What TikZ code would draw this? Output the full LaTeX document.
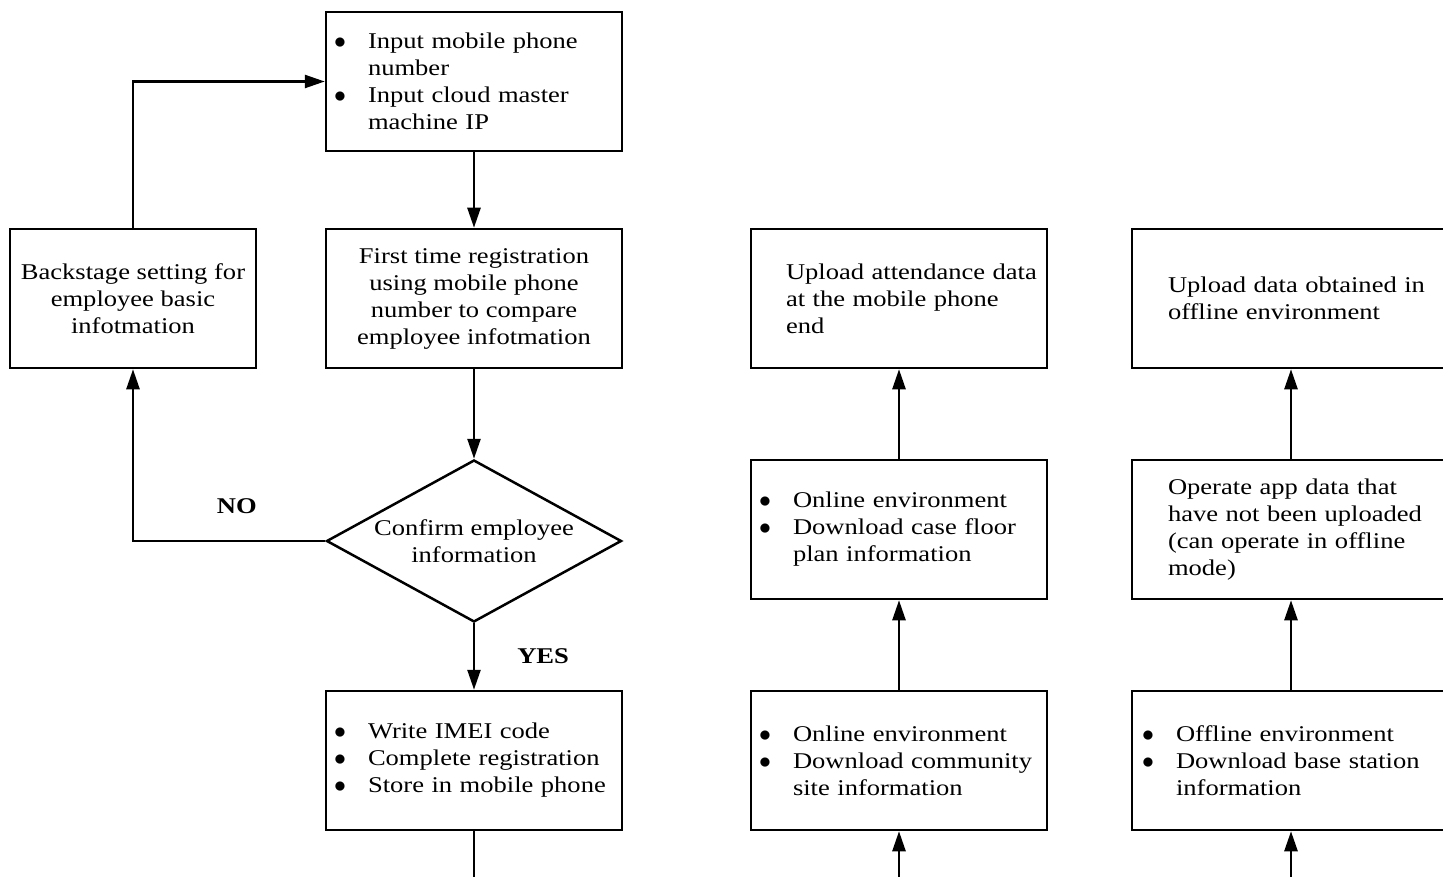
\documentclass[tikz,border=0pt]{standalone}
\usepackage{fontspec}
\setmainfont{Liberation Serif}[FakeStretch=1.18]
\usetikzlibrary{shapes.geometric,arrows.meta}
\newcommand{\bul}{\leavevmode\llap{\scalebox{1.15}{$\bullet$}\hspace{22pt}}}
\tikzset{
  box/.style={rectangle, draw, line width=2.5pt, minimum height=139pt, inner sep=0pt},
  midbox/.style={box, minimum width=296pt, align=center},
  listbox/.style={box, text width=296pt, align=left},
  widebox/.style={box, text width=318pt, align=left},
  decision/.style={diamond, draw, line width=2.5pt, aspect=2, minimum width=295pt, minimum height=162pt, inner sep=0pt, align=center},
  flow/.style={line width=2.5pt, -{Triangle[length=20pt,width=13pt]}},
  plain/.style={line width=2.5pt},
  answer/.style={font=\fontsize{22.5}{27}\selectfont\bfseries, inner sep=0pt}
}

\begin{document}
\begin{tikzpicture}[x=1pt, y=-1pt, every node/.style={font=\fontsize{22.5}{27}\selectfont}]
  \useasboundingbox (0,0) rectangle (1443,877);

  % registration column
  \node[listbox] (inp) at (474,81.5) {\leftskip=42pt \bul Input mobile phone\\ number\\ \bul Input cloud master\\ machine IP\par};
  \node[box, minimum width=246pt, align=center] (bks) at (133,298.5) {Backstage setting for\\ employee basic\\ infotmation};
  \node[midbox] (reg) at (474,298.5) {First time registration\\ using mobile phone\\ number to compare\\ employee infotmation};
  \node[decision] (conf) at (474,541) {Confirm employee\\ information};
  \node[listbox] (imei) at (474,760.5) {\leftskip=42pt \bul Write IMEI code\\ \bul Complete registration\\ \bul Store in mobile phone\par};

  % online column
  \node[listbox] (upatt) at (899,298.5) {\leftskip=35pt Upload attendance data\\ at the mobile phone\\ end\par};
  \node[listbox] (onfloor) at (899,529.5) {\leftskip=42pt \bul Online environment\\ \bul Download case floor\\ plan information\par};
  \node[listbox] (oncomm) at (899,760.5) {\leftskip=42pt \bul Online environment\\ \bul Download community\\ site information\par};

  % offline column
  \node[widebox] (upoff) at (1291,298.5) {\leftskip=36pt Upload data obtained in\\ offline environment\par};
  \node[widebox] (opapp) at (1291,529.5) {\leftskip=36pt Operate app data that\\ have not been uploaded\\ (can operate in offline\\ mode)\par};
  \node[widebox] (offbase) at (1291,760.5) {\leftskip=44pt \bul Offline environment\\ \bul Download base station\\ information\par};

  \coordinate (imeiout) at (474,900);
  \coordinate (commin) at (899,900);
  \coordinate (basein) at (1291,900);

  \draw[flow] (inp) -- (reg);
  \draw[flow] (reg) -- (conf);
  \draw[flow] (conf) -- node[answer, right=42pt] {YES} (imei);
  \draw[flow] (conf.west) -| node[answer, pos=0.23, above=26pt] {NO} (bks.south);
  \draw[flow] (bks.north) |- (inp.west);
  \draw[plain] (imei) -- (imeiout);

  \draw[flow] (commin) -- (oncomm);
  \draw[flow] (oncomm) -- (onfloor);
  \draw[flow] (onfloor) -- (upatt);
  \draw[flow] (basein) -- (offbase);
  \draw[flow] (offbase) -- (opapp);
  \draw[flow] (opapp) -- (upoff);
\end{tikzpicture}
\end{document}
